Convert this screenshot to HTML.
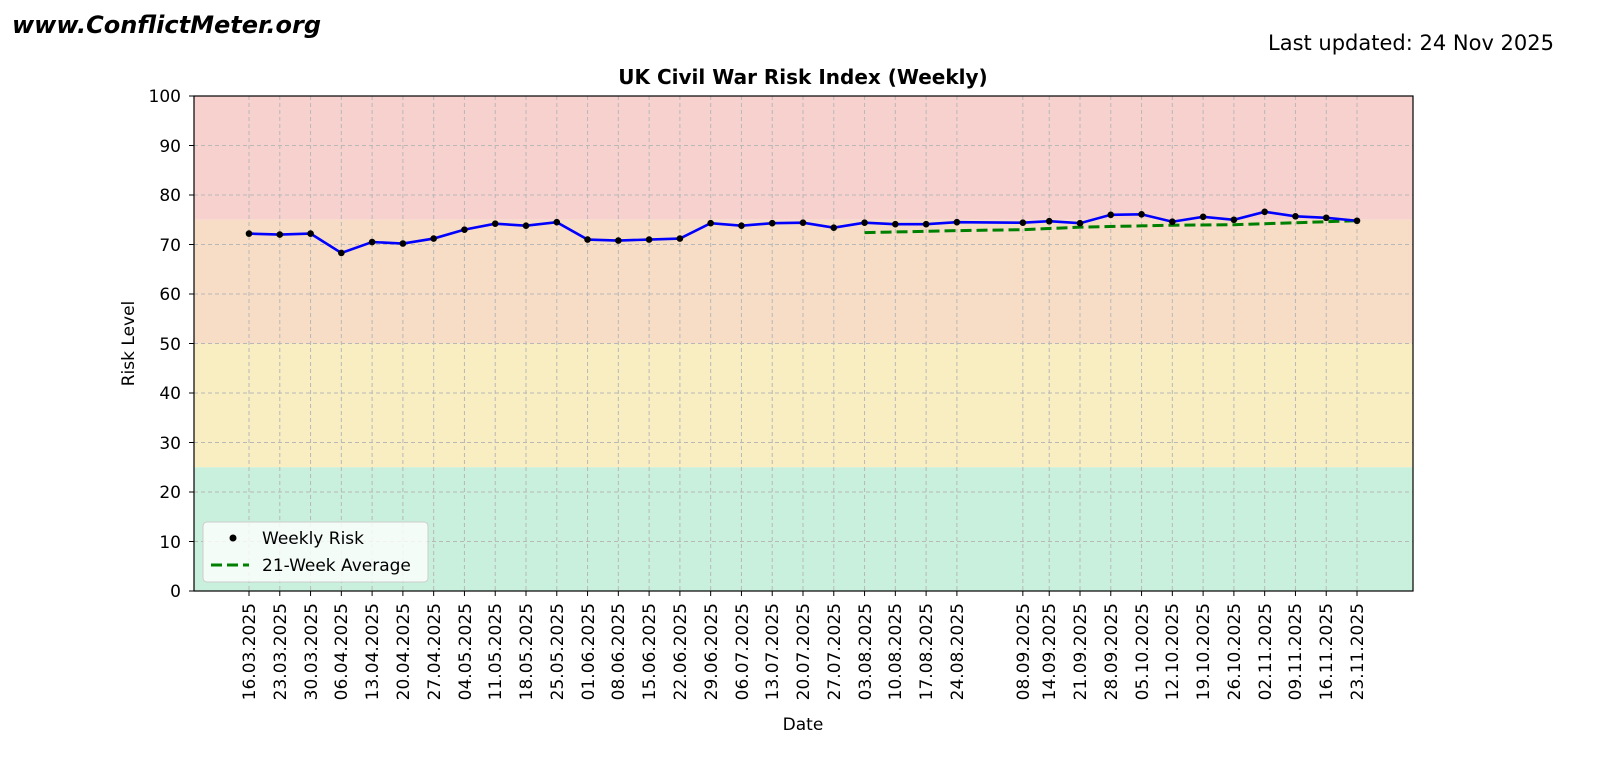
<!DOCTYPE html>
<html><head><meta charset="utf-8"><style>body{margin:0;background:#fff}svg{display:block}text{font-family:"DejaVu Sans","Liberation Sans",sans-serif;fill:#000}</style></head>
<body>
<svg id="s" width="1600" height="762" xmlns="http://www.w3.org/2000/svg">
<rect x="194" y="96" width="1219" height="123.75" fill="#f7d1cd"/>
<rect x="194" y="219.75" width="1219" height="123.75" fill="#f7ddc6"/>
<rect x="194" y="343.5" width="1219" height="123.75" fill="#f9eec2"/>
<rect x="194" y="467.25" width="1219" height="123.75" fill="#c9f0dc"/>
<g id="grid" stroke="#b8b8b8" stroke-width="1" stroke-dasharray="4,3"></g>
<g id="lines"></g>
<rect x="194" y="96" width="1219" height="495" fill="none" stroke="#000" stroke-width="1.2"/>
<g id="ticks" stroke="#000" stroke-width="1"></g>
<text x="12" y="33" font-size="24" font-weight="bold" font-style="italic">www.ConflictMeter.org</text>
<text x="1554" y="50" font-size="21" text-anchor="end">Last updated: 24 Nov 2025</text>
<text x="803" y="84" font-size="20" font-weight="bold" text-anchor="middle">UK Civil War Risk Index (Weekly)</text>
<text x="803" y="730" font-size="17" text-anchor="middle">Date</text>
<text transform="translate(134,343.5) rotate(-90)" font-size="17" text-anchor="middle">Risk Level</text>
<g font-size="17" text-anchor="end">
<text x="181" y="597">0</text><text x="181" y="548">10</text><text x="181" y="498">20</text><text x="181" y="449">30</text><text x="181" y="399">40</text><text x="181" y="350">50</text><text x="181" y="300">60</text><text x="181" y="251">70</text><text x="181" y="201">80</text><text x="181" y="152">90</text><text x="181" y="102">100</text>
</g>
<g font-size="17" text-anchor="end" id="xl">
<text transform="translate(255,603) rotate(-90)">16.03.2025</text>
<text transform="translate(286,603) rotate(-90)">23.03.2025</text>
<text transform="translate(317,603) rotate(-90)">30.03.2025</text>
<text transform="translate(347,603) rotate(-90)">06.04.2025</text>
<text transform="translate(378,603) rotate(-90)">13.04.2025</text>
<text transform="translate(409,603) rotate(-90)">20.04.2025</text>
<text transform="translate(440,603) rotate(-90)">27.04.2025</text>
<text transform="translate(471,603) rotate(-90)">04.05.2025</text>
<text transform="translate(501,603) rotate(-90)">11.05.2025</text>
<text transform="translate(532,603) rotate(-90)">18.05.2025</text>
<text transform="translate(563,603) rotate(-90)">25.05.2025</text>
<text transform="translate(594,603) rotate(-90)">01.06.2025</text>
<text transform="translate(624,603) rotate(-90)">08.06.2025</text>
<text transform="translate(655,603) rotate(-90)">15.06.2025</text>
<text transform="translate(686,603) rotate(-90)">22.06.2025</text>
<text transform="translate(717,603) rotate(-90)">29.06.2025</text>
<text transform="translate(748,603) rotate(-90)">06.07.2025</text>
<text transform="translate(778,603) rotate(-90)">13.07.2025</text>
<text transform="translate(809,603) rotate(-90)">20.07.2025</text>
<text transform="translate(840,603) rotate(-90)">27.07.2025</text>
<text transform="translate(871,603) rotate(-90)">03.08.2025</text>
<text transform="translate(901,603) rotate(-90)">10.08.2025</text>
<text transform="translate(932,603) rotate(-90)">17.08.2025</text>
<text transform="translate(963,603) rotate(-90)">24.08.2025</text>
<text transform="translate(1029,603) rotate(-90)">08.09.2025</text>
<text transform="translate(1055,603) rotate(-90)">14.09.2025</text>
<text transform="translate(1086,603) rotate(-90)">21.09.2025</text>
<text transform="translate(1117,603) rotate(-90)">28.09.2025</text>
<text transform="translate(1148,603) rotate(-90)">05.10.2025</text>
<text transform="translate(1178,603) rotate(-90)">12.10.2025</text>
<text transform="translate(1209,603) rotate(-90)">19.10.2025</text>
<text transform="translate(1240,603) rotate(-90)">26.10.2025</text>
<text transform="translate(1271,603) rotate(-90)">02.11.2025</text>
<text transform="translate(1301,603) rotate(-90)">09.11.2025</text>
<text transform="translate(1332,603) rotate(-90)">16.11.2025</text>
<text transform="translate(1363,603) rotate(-90)">23.11.2025</text>
</g>
<rect x="203" y="522" width="225" height="60" rx="4" fill="#fff" fill-opacity="0.8" stroke="#ccc"/>
<circle cx="233" cy="538" r="3.5" fill="#000"/>
<text x="262" y="544" font-size="17">Weekly Risk</text>
<line x1="211" y1="565" x2="249" y2="565" stroke="#008000" stroke-width="3" stroke-dasharray="11,5"/>
<text x="262" y="571" font-size="17">21-Week Average</text>
</svg>
<script>
var N="http://www.w3.org/2000/svg";
function el(p,t,a){var e=document.createElementNS(N,t);for(var k in a)e.setAttribute(k,a[k]);document.getElementById(p).appendChild(e);return e;}
var days=[];for(var i=0;i<24;i++)days.push(i*7);[176,182,189,196,203,210,217,224,231,238,245,252].forEach(function(d){days.push(d)});
var X=function(d){return 249+d*(1108/252)};var Y=function(v){return 591-4.95*v};
var v=[72.2,72.0,72.2,68.3,70.5,70.2,71.2,73.0,74.2,73.8,74.5,71.0,70.8,71.0,71.2,74.3,73.8,74.3,74.4,73.4,74.4,74.1,74.1,74.5,74.4,74.7,74.3,76.0,76.1,74.6,75.6,75.0,76.6,75.7,75.4,74.8];
for(var k=0;k<=10;k++){el("grid","line",{x1:194,x2:1413,y1:Y(k*10),y2:Y(k*10)});el("ticks","line",{x1:189,x2:194,y1:Y(k*10),y2:Y(k*10)});}
days.forEach(function(d){var x=X(d);el("grid","line",{x1:x,x2:x,y1:96,y2:591});el("ticks","line",{x1:x,x2:x,y1:591,y2:596});});
var avg=[[140,72.4],[161,72.8],[176,73.0],[189,73.5],[210,73.9],[224,74.0],[238,74.4],[252,74.8]];
el("lines","polyline",{points:avg.map(function(p){return X(p[0])+","+Y(p[1])}).join(" "),fill:"none",stroke:"#008000","stroke-width":3,"stroke-dasharray":"11,5"});
el("lines","polyline",{points:days.map(function(d,i){return X(d)+","+Y(v[i])}).join(" "),fill:"none",stroke:"#0000ff","stroke-width":2.6});
days.forEach(function(d,i){el("lines","circle",{cx:X(d),cy:Y(v[i]),r:3.3,fill:"#000"});});
</script>
</body></html>
